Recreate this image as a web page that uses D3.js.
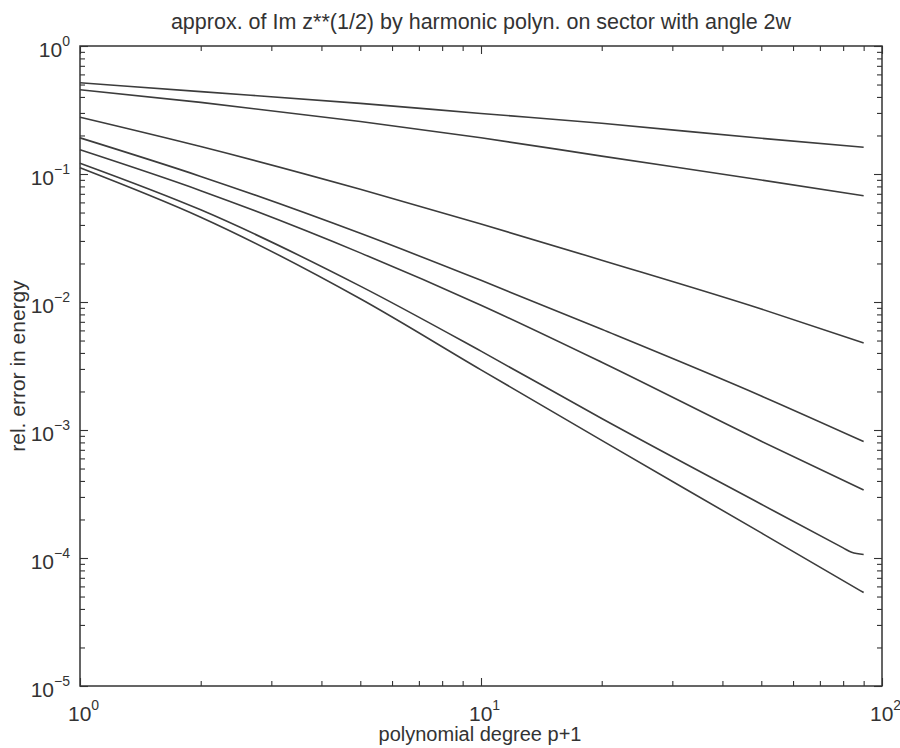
<!DOCTYPE html>
<html>
<head>
<meta charset="utf-8">
<script src="https://cdn.jsdelivr.net/npm/d3@7"></script>
<style>
  html, body { margin: 0; padding: 0; background: #ffffff; }
  svg { display: block; font-family: "Liberation Sans", Arial, Helvetica, sans-serif; }
</style>
</head>
<body>
<svg id="chart" width="900" height="748"></svg>
<script>
// ---- data ----
const degrees = [1, 2, 5, 10, 20, 50, 90];
const degreesKink = [1, 2, 5, 10, 20, 50, 80, 84, 90];
const line1 = [0.516, 0.440, 0.356, 0.297, 0.249, 0.190, 0.162];
const line2 = [0.455, 0.363, 0.257, 0.192, 0.138, 0.0897, 0.0676];
const line3 = [0.278, 0.164, 0.0760, 0.0407, 0.0212, 0.00881, 0.00479];
const line4 = [0.1916, 0.0958, 0.0344, 0.01476, 0.00612, 0.001845, 0.000813];
const line5 = [0.1545, 0.0741, 0.0242, 0.00944, 0.00338, 0.000817, 0.00034];
const line6 = [0.1215, 0.0525, 0.0133, 0.00413, 0.00123, 0.000263, 0.000120, 0.0001107, 0.0001065];
const line7 = [0.112, 0.0460, 0.0106, 0.00295, 0.00083, 0.000157, 0.0000537];
const xMajorExps = [0, 1, 2];
const yMajorExps = [0, -1, -2, -3, -4, -5];
const titleText = "approx. of Im z**(1/2) by harmonic polyn. on sector with angle 2w";
const xLabelText = "polynomial degree p+1";
const yLabelText = "rel. error in energy";

const seriesList = [
  {xs: degrees, ys: line1},
  {xs: degrees, ys: line2},
  {xs: degrees, ys: line3},
  {xs: degrees, ys: line4},
  {xs: degrees, ys: line5},
  {xs: degreesKink, ys: line6},
  {xs: degrees, ys: line7}
];

// ---- layout ----
const L = 80, R = 882, T = 46, B = 686;
const ink = "#333";
const svg = d3.select("#chart");

const x = d3.scaleLog().domain([1, 100]).range([L, R]);
const y = d3.scaleLog().domain([1e-5, 1]).range([B, T]);

// minor + major tick values
const xTicks = [];
for (let e = 0; e < 2; e++) for (let m = 1; m <= 9; m++) xTicks.push(m * Math.pow(10, e));
xTicks.push(100);
const yTicks = [];
for (let e = -5; e < 0; e++) for (let m = 1; m <= 9; m++) yTicks.push(m * Math.pow(10, e));
yTicks.push(1);
const isMajor = v => Math.abs(Math.log10(v) - Math.round(Math.log10(v))) < 1e-9;

function tickStyle(g) {
  g.select(".domain").remove();
  return g.selectAll(".tick line").attr("stroke", ink).attr("stroke-width", 1.1);
}
// bottom
svg.append("g").attr("transform", `translate(0,${B})`)
  .call(d3.axisBottom(x).tickValues(xTicks).tickFormat("").tickSize(-6))
  .call(g => tickStyle(g).attr("y2", d => isMajor(d) ? -8 : -5));
// top
svg.append("g").attr("transform", `translate(0,${T})`)
  .call(d3.axisTop(x).tickValues(xTicks).tickFormat("").tickSize(-6))
  .call(g => tickStyle(g).attr("y2", d => isMajor(d) ? 8 : 5));
// left
svg.append("g").attr("transform", `translate(${L},0)`)
  .call(d3.axisLeft(y).tickValues(yTicks).tickFormat("").tickSize(-6))
  .call(g => tickStyle(g).attr("x2", d => isMajor(d) ? 8 : 5));
// right
svg.append("g").attr("transform", `translate(${R},0)`)
  .call(d3.axisRight(y).tickValues(yTicks).tickFormat("").tickSize(-6))
  .call(g => tickStyle(g).attr("x2", d => isMajor(d) ? -8 : -5));

// frame
svg.append("rect").attr("x", L).attr("y", T).attr("width", R - L).attr("height", B - T)
  .attr("fill", "none").attr("stroke", ink).attr("stroke-width", 1.5);

// series lines
const lineGen = d3.line().x(d => x(d[0])).y(d => y(d[1])).curve(d3.curveMonotoneX);
seriesList.forEach(s => {
  const pts = s.xs.map((v, i) => [v, s.ys[i]]);
  svg.append("path").datum(pts).attr("d", lineGen)
    .attr("fill", "none").attr("stroke", "#3c3c3c").attr("stroke-width", 1.6);
});

// y tick labels
yMajorExps.forEach(e => {
  const t = svg.append("text").attr("x", 70).attr("y", y(Math.pow(10, e)) + 11)
    .attr("text-anchor", "end").attr("fill", ink).attr("font-size", 21);
  t.append("tspan").text("10");
  t.append("tspan").attr("dy", -11).attr("font-size", 14).text(String(e).replace("-", "\u2212"));
});
// x tick labels
xMajorExps.forEach(e => {
  const t = svg.append("text").attr("x", x(Math.pow(10, e)) - 12).attr("y", 721)
    .attr("text-anchor", "start").attr("fill", ink).attr("font-size", 21);
  t.append("tspan").text("10");
  t.append("tspan").attr("dy", -11).attr("font-size", 14).text(String(e));
});

// title & axis labels
svg.append("text").attr("x", 481).attr("y", 29).attr("text-anchor", "middle")
  .attr("fill", ink).attr("font-size", 21.5).text(titleText);
svg.append("text").attr("x", 480).attr("y", 741).attr("text-anchor", "middle")
  .attr("fill", ink).attr("font-size", 20).text(xLabelText);
svg.append("text").attr("transform", `translate(25,${(T + B) / 2}) rotate(-90)`)
  .attr("text-anchor", "middle").attr("fill", ink).attr("font-size", 21).text(yLabelText);
</script>
</body>
</html>
